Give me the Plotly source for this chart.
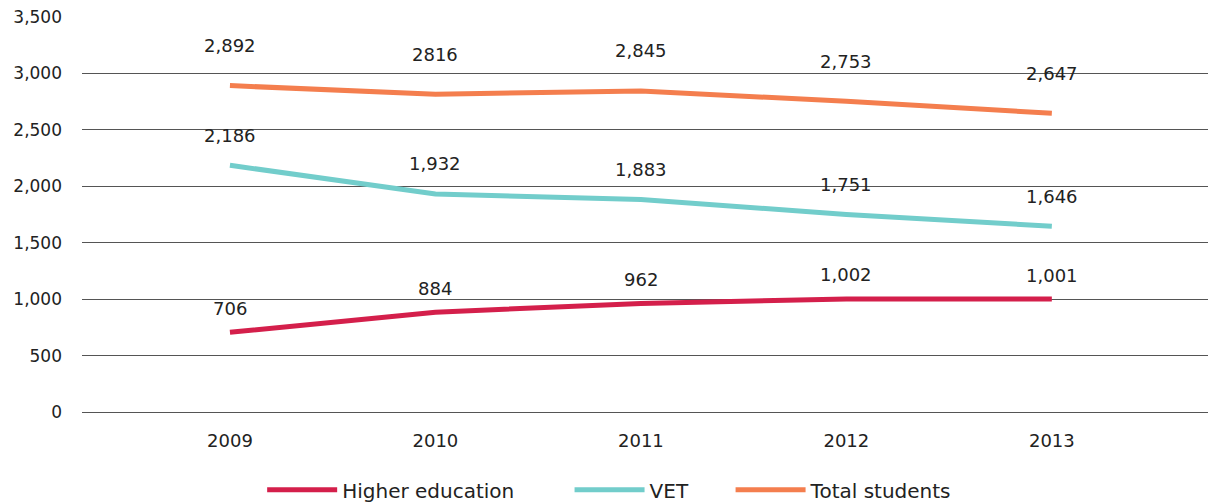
import plotly.graph_objects as go

years = ["2009", "2010", "2011", "2012", "2013"]
higher_education = [706, 884, 962, 1002, 1001]
vet = [2186, 1932, 1883, 1751, 1646]
total_students = [2892, 2816, 2845, 2753, 2647]
higher_labels = ["706", "884", "962", "1,002", "1,001"]
vet_labels = ["2,186", "1,932", "1,883", "1,751", "1,646"]
total_labels = ["2,892", "2816", "2,845", "2,753", "2,647"]
y_ticks = [0, 500, 1000, 1500, 2000, 2500, 3000, 3500]
y_tick_text = ["0", "500", "1,000", "1,500", "2,000", "2,500", "3,000", "3,500"]

FONT = "'DejaVu Sans', sans-serif"
series = [
    ("Higher education", higher_education, higher_labels, "#D41F4B", 24, "legend", 0.160),
    ("VET", vet, vet_labels, "#72CDCB", 30, "legend2", 0.433),
    ("Total students", total_students, total_labels, "#F47E4E", 40, "legend3", 0.576),
]

fig = go.Figure()
annotations = []
legends = {}
for name, vals, labels, color, shift, leg, lx in series:
    fig.add_trace(go.Scatter(x=years, y=vals, mode="lines", name=name, legend=leg,
                             line=dict(color=color, width=5)))
    for i, (v, t) in enumerate(zip(vals, labels)):
        annotations.append(dict(x=i, y=v, xref="x", yref="y", text=t, showarrow=False,
                                yshift=shift,
                                font=dict(size=18, color="#222", family=FONT)))
    legends[leg] = dict(orientation="h", x=lx, xanchor="left", y=-0.197,
                        yanchor="middle", itemwidth=70,
                        font=dict(size=20, color="#222", family=FONT),
                        bgcolor="rgba(0,0,0,0)")

fig.update_layout(
    width=1211, height=504,
    margin=dict(l=82, r=3, t=17, b=92, autoexpand=False),
    plot_bgcolor="white", paper_bgcolor="white",
    font=dict(family=FONT, color="#222", size=17),
    annotations=annotations,
    showlegend=True,
    **legends,
    xaxis=dict(type="category", range=[-0.72, 4.76], showgrid=False, showline=False,
               ticks="", tickfont=dict(size=18), automargin=False,
               ticklabelstandoff=16),
    yaxis=dict(range=[0, 3500], tickvals=y_ticks, ticktext=y_tick_text,
               showgrid=True, gridcolor="#555", gridwidth=1, zeroline=True,
               zerolinecolor="#555", zerolinewidth=1, tickfont=dict(size=17),
               ticks="", ticklabelstandoff=19, automargin=False),
)

fig.write_html("out.html", config={"displayModeBar": False},
               post_script="document.body.style.margin='0';")
